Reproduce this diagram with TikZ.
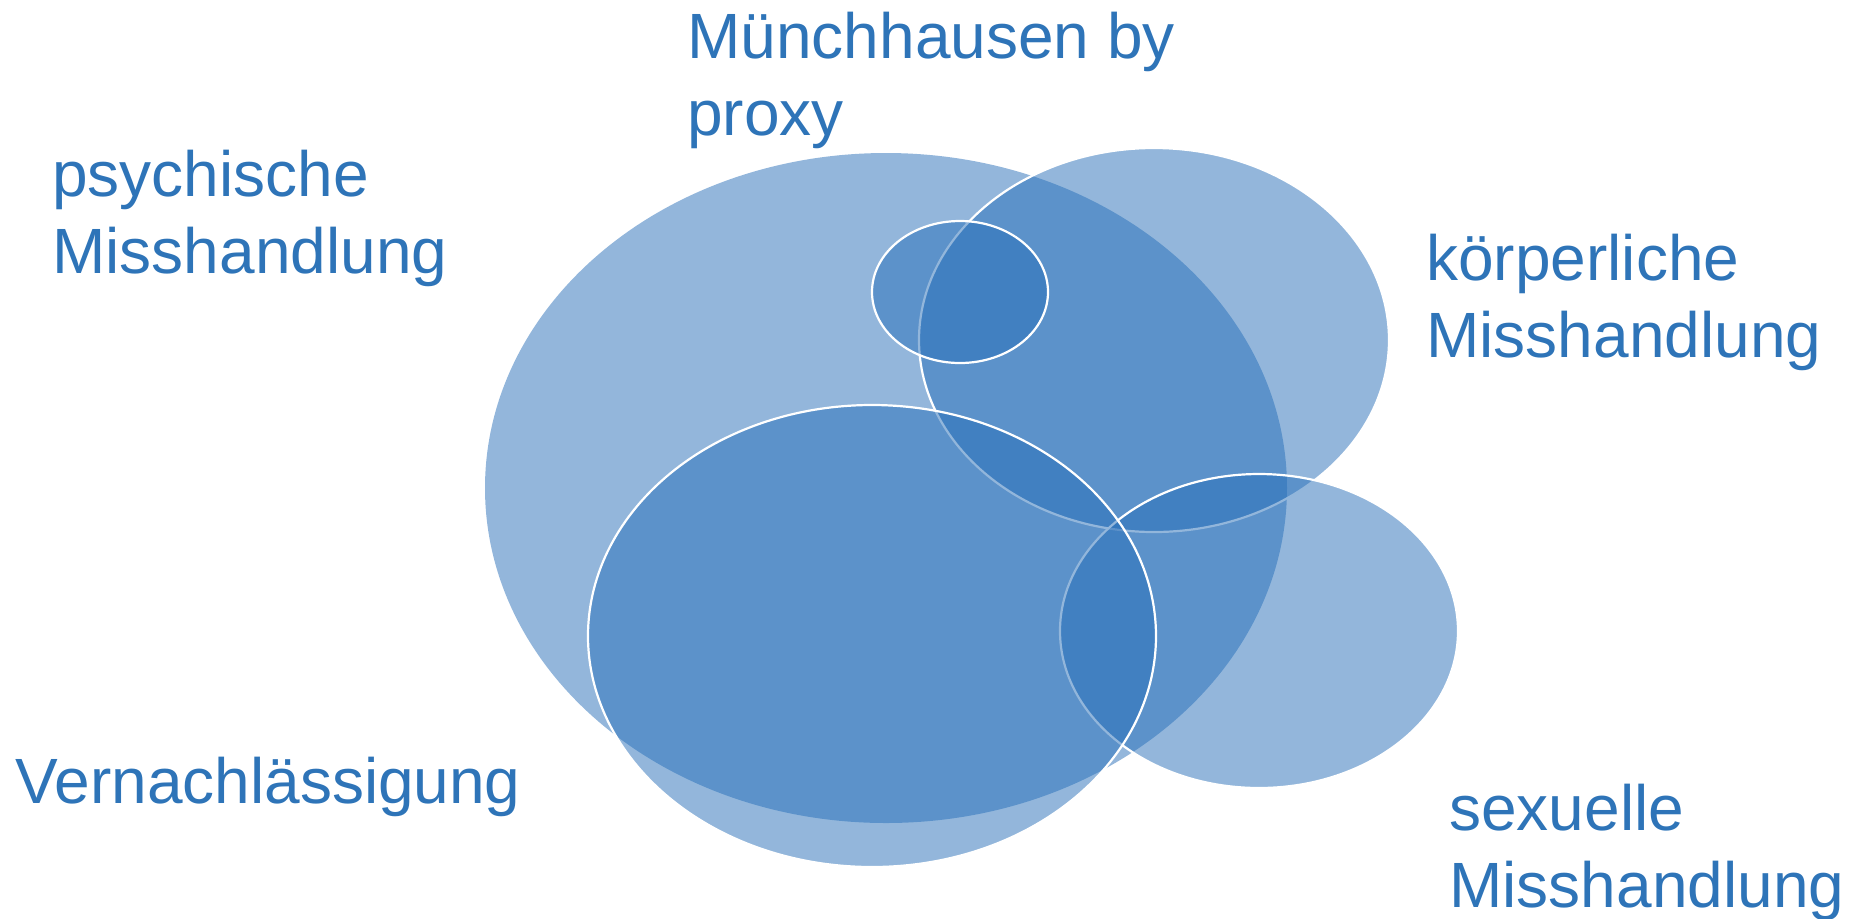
\documentclass[tikz,border=0pt]{standalone}
\usepackage{fontspec}
\setmainfont{Liberation Sans}
\definecolor{venn}{RGB}{39,110,184}
\definecolor{venntext}{RGB}{46,116,184}
\tikzset{
  setfill/.style={fill=venn, fill opacity=0.5},
  setline/.style={setfill, draw=white, line width=1.1pt},
  settext/.style={text=venntext, anchor=base west, inner sep=0pt, align=left,
    font=\fontsize{32}{38.5}\selectfont}
}

\begin{document}
\begin{tikzpicture}[x=0.5pt, y=-0.5pt]
    \useasboundingbox (0,0) rectangle (1849,918);
    % the sets, back to front
    \fill[setfill] (886,488) ellipse [x radius=401, y radius=335];
    \filldraw[setline] (1154,340) ellipse [x radius=235, y radius=192];
    \filldraw[setline] (1259,631) ellipse [x radius=199, y radius=157];
    \filldraw[setline] (872,636) ellipse [x radius=284, y radius=231];
    \filldraw[setline] (960,292) ellipse [x radius=88, y radius=71];
    % labels (base = last line)
    \node[settext] (psych) at (52,273) {psychische\\Misshandlung};
    \node[settext] (muench) at (687,135) {Münchhausen by\\proxy};
    \node[settext] (koerper) at (1426,357) {körperliche\\Misshandlung};
    \node[settext] (vernach) at (15,803) {Vernachlässigung};
    \node[settext] (sexuell) at (1449,907) {sexuelle\\Misshandlung};
\end{tikzpicture}
\end{document}
